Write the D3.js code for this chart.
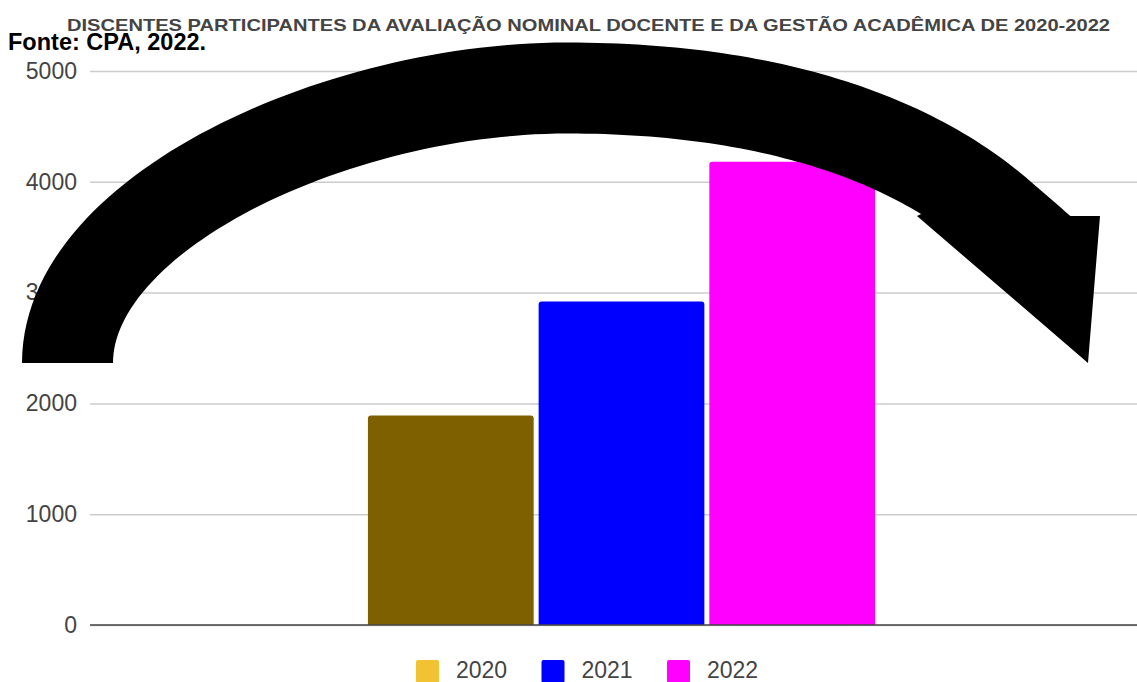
<!DOCTYPE html>
<html>
<head>
<meta charset="utf-8">
<script src="https://cdn.jsdelivr.net/npm/d3@7"></script>
<style>
  body { margin: 0; background: #fff; }
  text { font-family: "Liberation Sans", Arial, sans-serif; }
</style>
</head>
<body>
<script>
// data
var category = ["Discentes"];
var years = ["2020", "2021", "2022"];
var participants = [1890, 2920, 4180];
var barColors = ["#7f6000", "#0000ff", "#ff00ff"];
var legendColors = ["#f1c232", "#0000ff", "#ff00ff"];
var yTicks = [0, 1000, 2000, 3000, 4000, 5000];

window.onload = function(){

	var w = 1137, h = 682;
	var left = 90, right = 1153, top = 71, bottom = 625;

	var svg = d3.select("body").append("svg")
		.attr("width", w)
		.attr("height", h);

	var y = d3.scaleLinear()
		.domain([0, 5000])
		.range([bottom, top]);

	// one category, three series side by side
	var x0 = d3.scaleBand()
		.domain(category)
		.range([left, right])
		.paddingOuter(0.548);

	var x1 = d3.scaleBand()
		.domain(years)
		.range([0, x0.bandwidth()])
		.paddingInner(0.029);

	// gridlines + tick labels
	var yAxis = d3.axisLeft(y)
		.tickValues(yTicks)
		.tickSize(-(w - left))
		.tickPadding(13)
		.tickFormat(d3.format("d"));

	var axis = svg.append("g")
		.attr("class", "axis")
		.attr("transform", "translate(" + left + ",0)")
		.call(yAxis);
	axis.select(".domain").remove();
	axis.selectAll(".tick line")
		.attr("stroke", "#cccccc")
		.attr("stroke-width", 1.5);
	axis.selectAll(".tick text")
		.attr("fill", "#444")
		.style("font-size", "23px");

	// bars, rounded top corners only
	var r = 3;
	svg.append("g").selectAll("path.bar")
		.data(participants)
		.enter()
		.append("path")
		.attr("class", "bar")
		.attr("d", function(d, i){
			var bx = x0(category[0]) + x1(years[i]);
			var bw = x1.bandwidth();
			var by = y(d), bb = y(0);
			var p = d3.path();
			p.moveTo(bx, bb);
			p.lineTo(bx, by + r);
			p.quadraticCurveTo(bx, by, bx + r, by);
			p.lineTo(bx + bw - r, by);
			p.quadraticCurveTo(bx + bw, by, bx + bw, by + r);
			p.lineTo(bx + bw, bb);
			p.closePath();
			return p.toString();
		})
		.style("fill", function(d, i){ return barColors[i]; });

	// baseline
	svg.append("line")
		.attr("x1", left)
		.attr("x2", w)
		.attr("y1", y(0))
		.attr("y2", y(0))
		.attr("stroke", "#444")
		.attr("stroke-width", 1.5);

	// big black arrow drawn over the chart:
	// a band of constant width around a two-piece bezier centre line
	var half = 45.5;
	var segA = [[67.5,363],[67.5,213],[337,88],[567,88]];
	var segB = [[567,88],[767,88],[910,137],[1001,216]];

	function bez(p, t){
		var u = 1 - t;
		var x = u*u*u*p[0][0] + 3*u*u*t*p[1][0] + 3*u*t*t*p[2][0] + t*t*t*p[3][0];
		var yy = u*u*u*p[0][1] + 3*u*u*t*p[1][1] + 3*u*t*t*p[2][1] + t*t*t*p[3][1];
		var dx = 3*u*u*(p[1][0]-p[0][0]) + 6*u*t*(p[2][0]-p[1][0]) + 3*t*t*(p[3][0]-p[2][0]);
		var dy = 3*u*u*(p[1][1]-p[0][1]) + 6*u*t*(p[2][1]-p[1][1]) + 3*t*t*(p[3][1]-p[2][1]);
		var len = Math.sqrt(dx*dx + dy*dy) || 1;
		return {x: x, y: yy, nx: dy/len, ny: -dx/len, dx: dx/len, dy: dy/len};
	}

	var centre = [];
	d3.range(0, 1, 1/60).forEach(function(t){ centre.push(bez(segA, t)); });
	d3.range(0, 1.0001, 1/60).forEach(function(t){ centre.push(bez(segB, t)); });
	// straight run past the end so the band reaches the head's top edge
	var last = centre[centre.length - 1];
	d3.range(1, 16).forEach(function(s){
		centre.push({x: last.x + last.dx*s*5, y: last.y + last.dy*s*5, nx: last.nx, ny: last.ny});
	});

	function edgeUntil(sign, yCut){
		var pts = [];
		for (var i = 0; i < centre.length; i++){
			var c = centre[i];
			var px = c.x + sign*half*c.nx, py = c.y + sign*half*c.ny;
			if (px > 600 && py >= yCut){
				var prev = pts[pts.length - 1];
				var f = (yCut - prev[1]) / (py - prev[1]);
				pts.push([prev[0] + f*(px - prev[0]), yCut]);
				break;
			}
			pts.push([px, py]);
		}
		return pts;
	}

	var outerEdge = edgeUntil(1, 216);
	var innerEdge = edgeUntil(-1, 214);
	var headPts = [[1100,216],[1088,363],[917,216]];
	var outline = outerEdge.concat(headPts, innerEdge.reverse());

	svg.append("path")
		.attr("class", "arrow")
		.attr("d", d3.line()(outline) + "Z")
		.style("fill", "#000");

	// title
	svg.append("text")
		.attr("x", 588.5)
		.attr("y", 31)
		.attr("text-anchor", "middle")
		.attr("textLength", 1043)
		.attr("lengthAdjust", "spacingAndGlyphs")
		.attr("fill", "#444")
		.style("font-size", "17px")
		.style("font-weight", "bold")
		.text("DISCENTES PARTICIPANTES DA AVALIAÇÃO NOMINAL DOCENTE E DA GESTÃO ACADÊMICA DE 2020-2022");

	svg.append("text")
		.attr("x", 8)
		.attr("y", 50)
		.attr("fill", "#000")
		.style("font-size", "23.5px")
		.style("font-weight", "bold")
		.text("Fonte: CPA, 2022.");

	// legend
	var legend = svg.append("g").attr("class", "legend");
	var item = legend.selectAll("g")
		.data(years)
		.enter()
		.append("g")
		.attr("transform", function(d, i){ return "translate(" + (416 + i * 125.5) + ",0)"; });
	item.append("rect")
		.attr("x", 0)
		.attr("y", 660)
		.attr("width", 23)
		.attr("height", 23)
		.attr("rx", 2)
		.style("fill", function(d, i){ return legendColors[i]; });
	item.append("text")
		.attr("x", 40)
		.attr("y", 678)
		.attr("fill", "#444")
		.style("font-size", "23px")
		.text(function(d){ return d; });
};
</script>
</body>
</html>
